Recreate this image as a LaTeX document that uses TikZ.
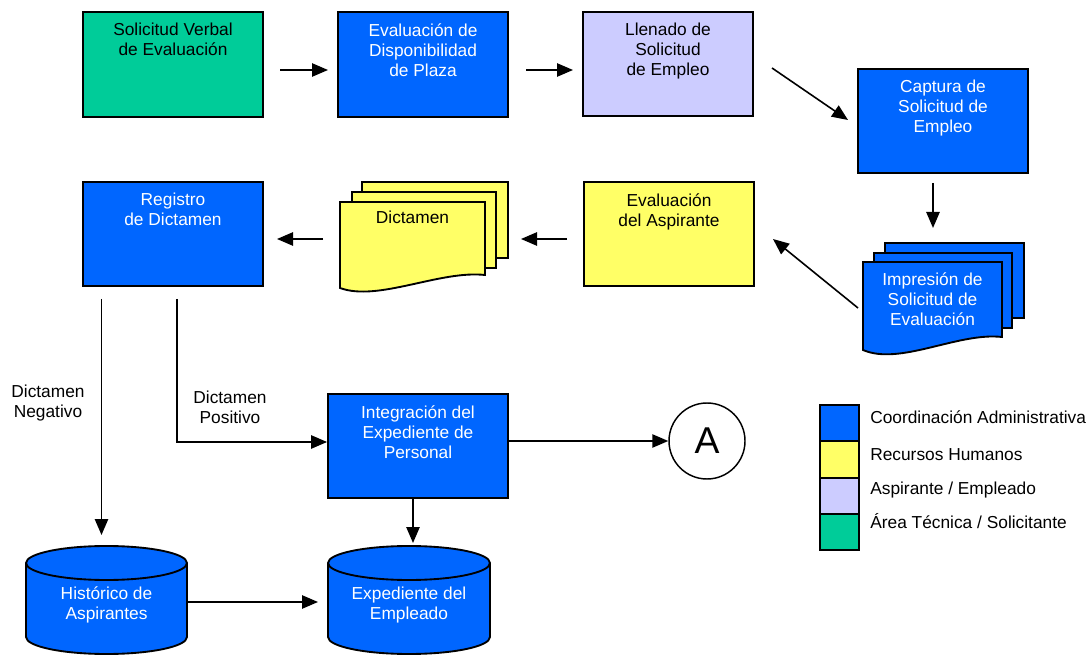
\documentclass[tikz,border=0pt]{standalone}
\usepackage{fontspec}
\setmainfont{Liberation Sans}
\usetikzlibrary{arrows.meta,fit,calc}
\definecolor{cblue}{HTML}{0066FF}
\definecolor{cyellow}{HTML}{FFFF66}
\definecolor{clav}{HTML}{CCCCFF}
\definecolor{cgreen}{HTML}{00CC99}
\begin{document}
\begin{tikzpicture}[x=0.75pt,y=-0.75pt,
  every node/.style={font=\fontsize{13}{15}\selectfont},
  box/.style={draw=black, line width=1.4pt, inner sep=0pt},
  lbl/.style={anchor=north, inner sep=0pt, align=center},
  wlbl/.style={lbl, text=white},
  shp/.style={draw=black, line width=1.4pt, line join=miter},
  arr/.style={line width=1.2pt, -{Triangle[length=12pt,width=10pt]}},
  legtxt/.style={anchor=base west, inner sep=0pt}
]
\useasboundingbox (0,0) rectangle (1088,655);

% ---------- process boxes ----------
\node[box, fill=cgreen, fit={(83,12) (263,117)}] (sol) {};
\node[lbl] (solT) at (173,23) {Solicitud Verbal\\de Evaluación};

\node[box, fill=cblue, fit={(338,12) (508,117)}] (disp) {};
\node[wlbl] (dispT) at (423,23) {Evaluación de\\Disponibilidad\\de Plaza};

\node[box, fill=clav, fit={(583,12) (753,116)}] (llen) {};
\node[lbl] (llenT) at (668,23) {Llenado de\\Solicitud\\de Empleo};

\node[box, fill=cblue, fit={(858,69) (1028,173)}] (capt) {};
\node[wlbl] (captT) at (943,80) {Captura de\\Solicitud de\\Empleo};

\node[box, fill=cblue, fit={(83,182) (263,286)}] (reg) {};
\node[wlbl] (regT) at (173,193) {Registro\\de Dictamen};

\node[box, fill=cyellow, fit={(584,182) (754,286)}] (evasp) {};
\node[lbl] (evaspT) at (669,193) {Evaluación\\del Aspirante};

\node[box, fill=cblue, fit={(328,394) (508,498)}] (int) {};
\node[wlbl] (intT) at (418,405) {Integración del\\Expediente de\\Personal};

% ---------- multi-document: Dictamen ----------
\filldraw[shp, fill=cyellow] (362,182) rectangle (508,258);
\filldraw[shp, fill=cyellow] (352,192) rectangle (496,268);
\filldraw[shp, fill=cyellow] (340,202) -- (485,202) -- (485,275)
  .. controls (440,270) and (378,302) .. (340,288) -- cycle;
\node[lbl] (dict) at (412.5,211) {Dictamen};

% ---------- multi-document: Impresión ----------
\filldraw[shp, fill=cblue] (885,243) rectangle (1024,318);
\filldraw[shp, fill=cblue] (874,253) rectangle (1012,328);
\filldraw[shp, fill=cblue] (863,262) -- (1002,262) -- (1002,337)
  .. controls (958,332) and (900,366) .. (863,350) -- cycle;
\node[wlbl] (impr) at (932.5,272) {Impresión de\\Solicitud de\\Evaluación};

% ---------- cylinders ----------
\filldraw[shp, fill=cblue] (26,637)
  arc[start angle=180, end angle=360, x radius=60.375pt, y radius=12.75pt]
  -- (187,563)
  arc[start angle=0, end angle=180, x radius=60.375pt, y radius=12.75pt]
  -- cycle;
\draw[shp] (26,563) arc[start angle=180, end angle=360, x radius=60.375pt, y radius=12.75pt];
\node[text=white, align=center, inner sep=0pt] (hist) at (106.5,605) {Histórico de\\Aspirantes};

\filldraw[shp, fill=cblue] (328,637)
  arc[start angle=180, end angle=360, x radius=60.75pt, y radius=12.75pt]
  -- (490,563)
  arc[start angle=0, end angle=180, x radius=60.75pt, y radius=12.75pt]
  -- cycle;
\draw[shp] (328,563) arc[start angle=180, end angle=360, x radius=60.75pt, y radius=12.75pt];
\node[text=white, align=center, inner sep=0pt] (exped) at (409,605) {Expediente del\\Empleado};

% ---------- connector circle ----------
\node[circle, draw=black, line width=1.1pt, minimum size=57pt, inner sep=0pt,
      font=\fontsize{28}{30}\selectfont] (A) at (707,441) {A};

% ---------- arrow end points ----------
\coordinate (a1s) at (280,70);  \coordinate (a1e) at (328,70);
\coordinate (a2s) at (526,70);  \coordinate (a2e) at (573,70);
\coordinate (a3s) at (772,68);  \coordinate (a3e) at (848,120);
\coordinate (a4s) at (933,183); \coordinate (a4e) at (933,228);
\coordinate (a5s) at (858,308); \coordinate (a5e) at (773,239);
\coordinate (a6s) at (567,239); \coordinate (a6e) at (521,239);
\coordinate (a7s) at (323,239); \coordinate (a7e) at (277,239);
\coordinate (negS) at (101.5,299); \coordinate (negE) at (101.5,535);
\coordinate (posS) at (177,299); \coordinate (posC) at (177,442);
\coordinate (intA) at (508,441);
\coordinate (intD) at (413,498); \coordinate (intDe) at (413,543);
\coordinate (histS) at (187,602); \coordinate (histE) at (318,602);

\draw[arr] (a1s) -- (a1e);
\draw[arr] (a2s) -- (a2e);
\draw[arr] (a3s) -- (a3e);
\draw[arr] (a4s) -- (a4e);
\draw[arr] (a5s) -- (a5e);
\draw[arr] (a6s) -- (a6e);
\draw[arr] (a7s) -- (a7e);
\draw[arr] (negS) -- (negE);
\draw[arr] (posS) -- (posC) -- (posC -| int.west);
\draw[arr] (intA) -- (A.west);
\draw[arr] (intD) -- (intDe);
\draw[arr] (histS) -- (histE);

\node[align=center, inner sep=0pt] (negL) at (48,403) {Dictamen\\Negativo};
\node[align=center, inner sep=0pt] (posL) at (230,407) {Dictamen\\Positivo};

% ---------- legend ----------
\node[box, fill=cblue,   fit={(820,405) (859,441)}] (l1) {};
\node[box, fill=cyellow, fit={(820,441) (859,478)}] (l2) {};
\node[box, fill=clav,    fit={(820,478) (859,514)}] (l3) {};
\node[box, fill=cgreen,  fit={(820,514) (859,550)}] (l4) {};
\node[legtxt] (t1) at (870,424) {Coordinación Administrativa};
\node[legtxt] (t2) at (870,460) {Recursos Humanos};
\node[legtxt] (t3) at (870,494) {Aspirante / Empleado};
\node[legtxt] (t4) at (870,528) {Área Técnica / Solicitante};
\end{tikzpicture}
\end{document}
